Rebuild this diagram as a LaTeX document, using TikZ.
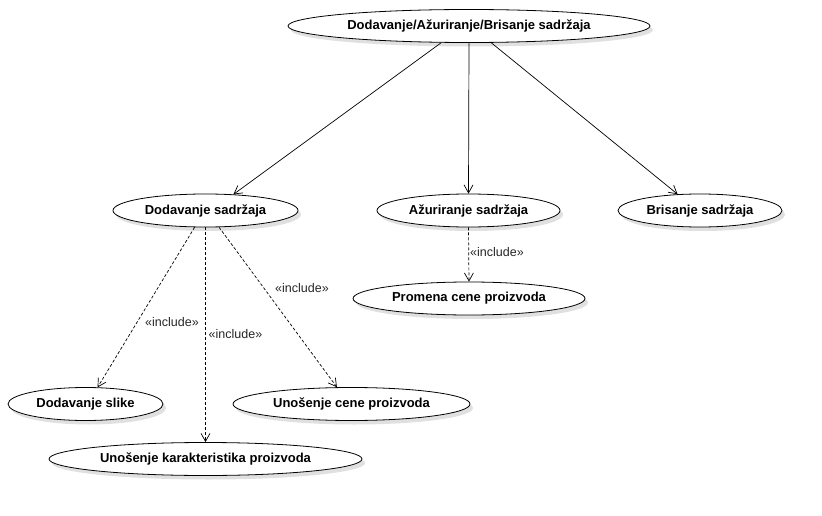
\documentclass[tikz,border=0pt]{standalone}
\usepackage{fontspec}
\setmainfont{Liberation Sans}
\usetikzlibrary{shapes.geometric,arrows.meta,shadows}
\begin{document}
\begin{tikzpicture}[x=1pt,y=-1pt,
  uc/.style={ellipse,draw=black,line width=0.8pt,fill=white,inner sep=0pt,
    minimum height=33pt,font=\fontsize{13}{15}\selectfont\bfseries,
    drop shadow={shadow xshift=3pt,shadow yshift=-4pt,opacity=0.12,fill=black}},
  assoc/.style={draw=black,line width=0.7pt,-{Straight Barb[length=8pt,width=9pt]}},
  incl/.style={draw=black,line width=0.7pt,dashed,dash pattern=on 3pt off 2pt,-{Straight Barb[length=8pt,width=9pt]}},
  lbl/.style={font=\fontsize{12.5}{14}\selectfont,text=black!85,inner sep=0pt}]
\useasboundingbox (0,0) rectangle (822,516);
\node[uc,minimum width=362pt] (top) at (469,26) {Dodavanje/Ažuriranje/Brisanje sadržaja};
\node[uc,minimum width=185pt] (ds) at (205.5,210.5) {Dodavanje sadržaja};
\node[uc,minimum width=183pt] (az) at (468.5,210.5) {Ažuriranje sadržaja};
\node[uc,minimum width=164pt] (br) at (700,210.5) {Brisanje sadržaja};
\node[uc,minimum width=232pt] (pr) at (469,298.5) {Promena cene proizvoda};
\node[uc,minimum width=155pt] (sl) at (85.5,404) {Dodavanje slike};
\node[uc,minimum width=237pt] (un) at (351.5,404) {Unošenje cene proizvoda};
\node[uc,minimum width=313pt] (ku) at (205.5,459) {Unošenje karakteristika proizvoda};

\draw[assoc] (top.211) -- (ds.30.8);
\draw[assoc] (top.270) -- (az.90);
\draw[assoc] (top.323.3) -- (br.144.1);

\draw[incl] (ds.237.4) -- (sl.54.8);
\draw[incl] (ds.south) -- (ku.north);
\draw[incl] (ds.309.6) -- (un.131.5);
\draw[incl] (az.south) -- (pr.north);

\node[lbl] (l1) at (172,322) {«include»};
\node[lbl] (l2) at (235.5,334) {«include»};
\node[lbl] (l3) at (302,288) {«include»};
\node[lbl] (l4) at (497,252.5) {«include»};
\end{tikzpicture}
\end{document}
